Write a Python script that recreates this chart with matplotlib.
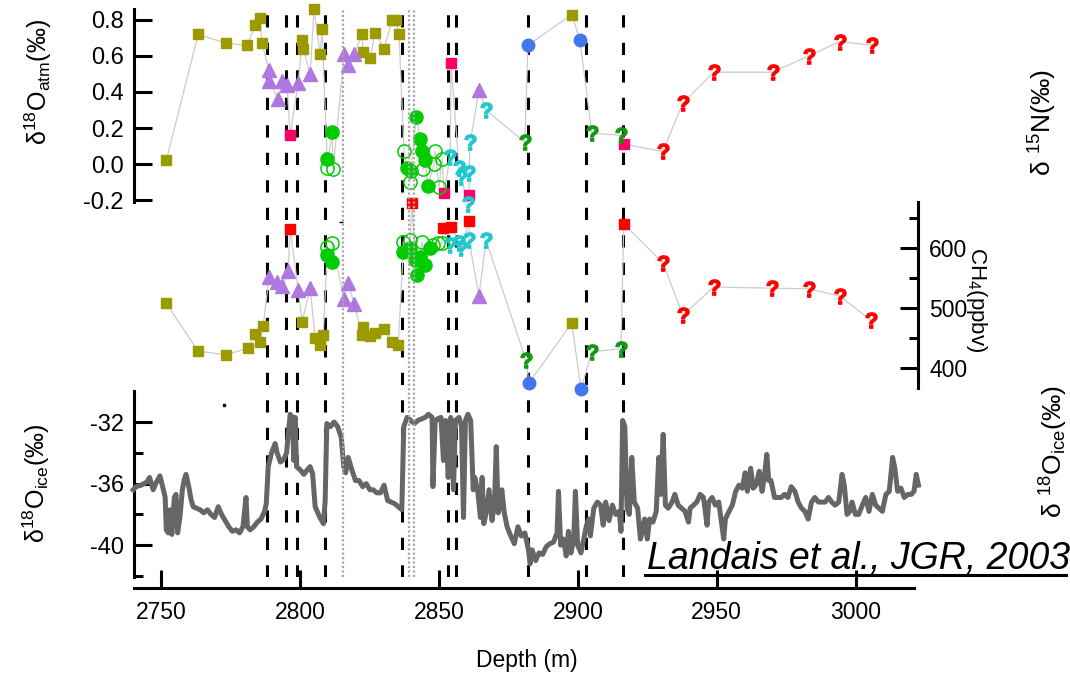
import numpy as np
import matplotlib
matplotlib.use("Agg")
import matplotlib.pyplot as plt
from matplotlib.lines import Line2D
from matplotlib.ticker import FixedLocator, FormatStrFormatter

plt.rcParams['font.family'] = ['Liberation Sans', 'DejaVu Sans']
plt.rcParams['mathtext.fontset'] = 'custom'
plt.rcParams['mathtext.rm'] = 'Liberation Sans'
plt.rcParams['mathtext.it'] = 'Liberation Sans:italic'
plt.rcParams['mathtext.bf'] = 'Liberation Sans:bold'
plt.rcParams['axes.unicode_minus'] = False

#d18O atm (panel superior)
olive_d = [2751.8, 2763.3, 2773.4, 2780.9, 2783.8, 2785.6, 2786.3, 2800.7, 2801.1, 2805.0, 2807.2,
           2807.9, 2822.3, 2822.7, 2825.2, 2827.0, 2830.2, 2833.1, 2834.5, 2835.6, 2897.8]
olive_o = [0.02, 0.72, 0.67, 0.66, 0.77, 0.81, 0.67, 0.69, 0.64, 0.86, 0.61,
           0.75, 0.72, 0.62, 0.59, 0.73, 0.64, 0.80, 0.80, 0.72, 0.83]
purple_d = [2788.8, 2788.9, 2792.1, 2793.5, 2795.3, 2799.3, 2803.6, 2815.8, 2817.3, 2819.4, 2864.4]
purple_o = [0.52, 0.46, 0.36, 0.46, 0.44, 0.45, 0.50, 0.61, 0.55, 0.61, 0.41]
pink_d = [2796.4, 2851.8, 2854.3, 2860.8, 2916.5]
pink_o = [0.16, -0.16, 0.56, -0.17, 0.11]
gfill_d = [2809.7, 2811.5, 2838.5, 2839.9, 2841.7, 2843.2, 2843.9, 2845.0, 2846.0]
gfill_o = [0.03, 0.18, -0.02, -0.04, 0.26, 0.14, 0.07, 0.02, -0.12]
gopen_d = [2809.7, 2811.9, 2837.4, 2839.6, 2844.2, 2848.2, 2848.6, 2850.0, 2851.1]
gopen_o = [-0.02, -0.03, 0.07, -0.10, -0.03, 0.0, 0.07, -0.13, 0.03]
cyan_d = [2854.0, 2857.2, 2857.9, 2860.4, 2860.8, 2861.2, 2866.9]
cyan_o = [0.04, -0.02, -0.07, -0.22, -0.05, 0.12, 0.30]
gq_d = [2880.9, 2905.0, 2915.5]
gq_o = [0.12, 0.17, 0.16]
blue_d = [2882.0, 2900.7]
blue_o = [0.66, 0.69]
redq_d = [2930.6, 2937.8, 2948.9, 2970.1, 2983.1, 2994.2, 3005.8]
redq_o = [0.07, 0.34, 0.51, 0.51, 0.60, 0.68, 0.66]

#CH4 (panel medio)
olive_cd = [2751.8, 2763.3, 2773.4, 2781.3, 2783.8, 2785.6, 2786.7, 2800.7, 2805.4, 2807.2,
            2808.3, 2822.3, 2822.7, 2825.2, 2827.0, 2830.2, 2833.1, 2835.3, 2897.8]
olive_c = [508, 428, 422, 433, 457, 443, 470, 477, 450, 438,
           455, 455, 468, 453, 458, 465, 443, 438, 475]
purple_cd = [2788.8, 2791.7, 2793.5, 2795.7, 2799.3, 2803.6, 2815.8, 2817.3, 2819.4, 2864.4]
purple_c = [552, 543, 537, 562, 530, 533, 515, 542, 507, 520]
red_cd = [2796.4, 2840.3, 2851.4, 2854.3, 2860.8, 2916.5]
red_c = [632, 675, 633, 635, 645, 640]
gfill_cd = [2809.7, 2811.5, 2837.1, 2839.6, 2841.4, 2842.1, 2843.2, 2845.0, 2846.8]
gfill_c = [588, 577, 593, 600, 580, 555, 585, 572, 600]
gopen_cd = [2809.7, 2811.5, 2837.1, 2839.6, 2843.9, 2847.8, 2849.6, 2851.1]
gopen_c = [602, 608, 610, 613, 610, 605, 608, 608]
cyan_cd = [2854.0, 2857.2, 2857.9, 2860.8, 2866.9]
cyan_c = [605, 608, 600, 613, 613]
gq_cd = [2881.3, 2905.0, 2915.5]
gq_c = [413, 427, 432]
blue_cd = [2882.4, 2901.1]
blue_c = [375, 365]
redq_cd = [2930.6, 2937.8, 2948.9, 2969.8, 2983.1, 2994.2, 3005.4]
redq_c = [575, 488, 535, 533, 532, 520, 480]

#d18O ice (panel inferior)
ice_depth = [
    2739.9, 2740.9, 2742.8, 2744.8, 2745.8, 2747.1, 2748.0, 2749.5, 2750.5, 2751.4,
    2751.8, 2752.5, 2753.1, 2753.8, 2754.7, 2755.3, 2755.9, 2756.7, 2757.6, 2758.2,
    2758.9, 2759.9, 2760.8, 2761.5, 2762.7, 2764.0, 2765.3, 2766.6, 2767.9, 2769.2,
    2770.5, 2771.7, 2773.0, 2774.3, 2775.6, 2776.9, 2778.2, 2779.4, 2780.5, 2781.0,
    2782.0, 2783.3, 2784.6, 2785.9, 2787.2, 2787.8, 2788.5, 2789.7, 2791.0, 2791.7,
    2792.9, 2794.2, 2795.1, 2795.9, 2796.4, 2797.2, 2797.7, 2798.2, 2798.7, 2800.0,
    2801.3, 2802.6, 2803.6, 2804.5, 2805.4, 2807.1, 2808.4, 2809.0, 2809.6, 2810.9,
    2812.2, 2813.5, 2814.8, 2815.7, 2816.4, 2817.3, 2818.6, 2819.9, 2821.2, 2822.5,
    2823.8, 2825.1, 2826.3, 2827.6, 2828.9, 2830.2, 2831.5, 2832.8, 2834.0, 2835.3,
    2836.6, 2837.3, 2838.5, 2839.8, 2841.1, 2842.4, 2843.7, 2845.0, 2846.2, 2847.5,
    2847.8, 2848.6, 2849.4, 2850.7, 2851.6, 2852.4, 2853.3, 2854.2, 2855.2, 2855.9,
    2857.2, 2858.1, 2858.8, 2859.5, 2860.4, 2861.4, 2862.3, 2862.9, 2864.0, 2864.9,
    2865.5, 2866.1, 2867.0, 2868.0, 2869.1, 2870.0, 2870.6, 2871.3, 2871.9, 2872.6,
    2873.5, 2874.5, 2875.8, 2877.1, 2878.4, 2879.6, 2880.9, 2882.2, 2882.8, 2883.5,
    2884.8, 2886.0, 2887.3, 2888.6, 2889.9, 2891.2, 2892.5, 2893.0, 2893.8, 2894.8,
    2895.8, 2896.6, 2897.5, 2898.5, 2899.1, 2899.9, 2901.1, 2902.1, 2903.1, 2903.9,
    2904.5, 2905.7, 2907.0, 2908.2, 2909.1, 2910.0, 2911.2, 2912.4, 2913.6, 2914.9,
    2915.5, 2916.1, 2916.9, 2917.7, 2918.5, 2919.4, 2920.3, 2921.5, 2922.5, 2923.4,
    2924.0, 2925.0, 2925.8, 2927.0, 2928.2, 2929.1, 2929.8, 2930.7, 2931.5, 2932.5,
    2933.9, 2934.9, 2936.1, 2937.3, 2938.6, 2939.8, 2940.4, 2941.6, 2942.8, 2944.0,
    2945.2, 2946.5, 2947.1, 2948.3, 2949.5, 2950.7, 2952.5, 2953.1, 2954.4, 2955.6,
    2956.8, 2958.0, 2959.2, 2960.2, 2961.0, 2962.2, 2963.1, 2964.1, 2965.3, 2966.3,
    2967.1, 2968.0, 2968.7, 2969.5, 2970.8, 2972.0, 2973.2, 2974.4, 2975.6, 2976.8,
    2978.1, 2979.3, 2980.5, 2981.7, 2982.9, 2984.1, 2985.3, 2986.6, 2987.8, 2989.0,
    2990.2, 2991.4, 2992.6, 2993.9, 2995.1, 2995.9, 2996.9, 2997.9, 2998.7, 2999.9,
    3001.1, 3002.4, 3003.6, 3004.8, 3006.0, 3007.2, 3008.4, 3009.6, 3010.9, 3012.1,
    3013.3, 3014.1, 3015.1, 3016.3, 3017.5, 3018.8, 3020.0, 3021.0, 3021.8, 3022.6]
ice_d18o = [
    -36.4, -36.2, -36.1, -35.9, -35.6, -36.4, -36.0, -35.5, -36.2, -36.9,
    -39.0, -39.2, -37.7, -39.3, -36.9, -36.7, -39.2, -38.2, -36.4, -35.8,
    -35.4, -36.2, -37.1, -37.5, -37.6, -37.7, -37.9, -37.7, -38.0, -38.2,
    -37.5, -38.0, -38.4, -38.8, -39.1, -39.0, -39.2, -38.8, -36.9, -38.8,
    -39.0, -38.8, -38.5, -38.3, -37.8, -37.3, -34.9, -34.0, -33.4, -34.0,
    -34.6, -34.4, -34.0, -32.5, -31.5, -31.7, -34.5, -31.7, -34.9, -35.1,
    -35.4, -35.1, -34.9, -35.4, -37.5, -38.2, -38.6, -37.1, -32.1, -32.3,
    -32.0, -32.3, -33.0, -34.9, -35.3, -34.3, -35.1, -35.8, -35.8, -36.2,
    -36.0, -36.4, -36.4, -36.6, -36.6, -36.1, -37.1, -37.2, -37.3, -37.5,
    -37.7, -32.3, -31.7, -31.9, -32.1, -31.9, -31.8, -31.7, -31.5, -31.7,
    -36.2, -32.0, -31.8, -31.7, -34.5, -31.9, -35.6, -31.7, -36.4, -31.9,
    -31.7, -32.3, -38.2, -31.9, -31.5, -31.9, -36.4, -35.6, -36.6, -38.2,
    -35.6, -38.6, -37.9, -36.4, -38.4, -37.1, -33.6, -37.9, -37.5, -36.4,
    -37.9, -38.8, -39.4, -39.9, -38.8, -39.4, -39.2, -40.3, -41.2, -40.3,
    -41.0, -40.5, -40.6, -40.1, -39.9, -39.8, -39.2, -36.5, -40.0, -39.6,
    -40.7, -39.1, -40.5, -39.6, -36.5, -40.0, -40.5, -39.6, -38.7, -38.3,
    -39.4, -37.6, -37.2, -37.4, -38.7, -37.2, -38.4, -37.4, -38.0, -37.8,
    -39.1, -31.9, -32.3, -37.6, -38.0, -34.3, -37.2, -37.6, -39.6, -38.9,
    -38.3, -39.6, -38.3, -38.5, -37.8, -34.3, -36.7, -32.8, -37.4, -37.6,
    -37.2, -36.7, -37.4, -37.6, -37.8, -38.5, -37.6, -37.4, -37.2, -36.7,
    -36.9, -38.7, -37.2, -36.9, -37.4, -37.2, -39.6, -38.3, -37.8, -37.4,
    -36.5, -36.1, -36.3, -35.3, -36.5, -35.0, -36.3, -36.1, -35.2, -36.5,
    -35.6, -34.1, -35.8, -35.8, -36.9, -36.9, -36.9, -36.7, -36.9, -36.2,
    -36.5, -37.2, -37.6, -37.8, -38.3, -37.2, -36.9, -37.2, -37.2, -37.2,
    -36.9, -37.2, -37.4, -37.2, -35.4, -36.1, -38.0, -37.8, -37.2, -38.0,
    -38.0, -37.4, -36.9, -37.8, -36.7, -37.4, -37.6, -37.8, -36.7, -36.5,
    -34.3, -35.0, -36.5, -36.3, -36.9, -36.7, -36.7, -36.5, -35.4, -36.1]

dashed_depths = [2788.1, 2795.0, 2798.9, 2809.0, 2836.7, 2853.2, 2856.1, 2882.0, 2902.9, 2916.2]
dotted_depths = [2815.5, 2839.3, 2841.0]

qmark = r'$\mathbf{?}$'

fig = plt.figure(figsize=(10.7, 6.77), dpi=100)
ax = fig.add_axes([133.5/1070, 1 - 577/677, 780.5/1070, 577/677])
ax.set_xlim(2740, 3021)
ax.set_ylim(-42.065, -4.597)

ax_top = ax.twinx()
ax_top.set_ylim(-2.294, 0.911)
ax_ch4 = ax.twinx()
ax_ch4.set_ylim(51.67, 1013.3)

#lineas verticales
for d in dashed_depths:
    ax.axvline(d, ymin=0, ymax=1 - 9/577, color="black", lw=2.2, dashes=(4, 5), zorder=1)
for d in dotted_depths:
    ax_ch4.axvline(d, ymin=0, ymax=1 - 9/577, color="#a8a8a8", lw=1.6, linestyle=(0, (1, 1)), zorder=10)

#panel inferior
ax.plot(ice_depth, ice_d18o, color="#666666", lw=3.6, clip_on=False, zorder=3)
ax.plot([2772.7], [-30.9], marker="s", ms=1.5, color="black", lw=0)

#panel superior
all_d = np.concatenate([olive_d, purple_d, pink_d, gfill_d, gopen_d, cyan_d, gq_d, blue_d, redq_d])
all_o = np.concatenate([olive_o, purple_o, pink_o, gfill_o, gopen_o, cyan_o, gq_o, blue_o, redq_o])
idx = np.argsort(all_d, kind="stable")
ax_top.plot(all_d[idx], all_o[idx], color="#cccccc", lw=0.9, zorder=2)
ax_top.plot(olive_d, olive_o, "s", color="#9c9a00", ms=7.2, lw=0, zorder=3)
ax_top.plot(purple_d, purple_o, "^", color="#ae78e0", ms=10, lw=0, zorder=3)
ax_top.plot(pink_d, pink_o, "s", color="#ff0066", ms=7.2, lw=0, zorder=3)
ax_top.plot(gopen_d, gopen_o, "o", mfc="none", mec="#00cc00", mew=1.1, ms=9.5, lw=0, zorder=3)
ax_top.plot(gfill_d, gfill_o, "o", color="#00cc00", ms=9.5, lw=0, zorder=3)
ax_top.plot(cyan_d, cyan_o, marker=qmark, color="#1ec8d0", ms=11, lw=0, zorder=3)
ax_top.plot(gq_d, gq_o, marker=qmark, color="#119911", ms=11, lw=0, zorder=3)
ax_top.plot(blue_d, blue_o, "o", color="#4477ee", ms=9, lw=0, zorder=3)
ax_top.plot(redq_d, redq_o, marker=qmark, color="#ff0000", ms=11, lw=0, zorder=3)

#panel medio
all_cd = np.concatenate([olive_cd, purple_cd, red_cd, gfill_cd, gopen_cd, cyan_cd, gq_cd, blue_cd, redq_cd])
all_c = np.concatenate([olive_c, purple_c, red_c, gfill_c, gopen_c, cyan_c, gq_c, blue_c, redq_c])
idx = np.argsort(all_cd, kind="stable")
ax_ch4.plot(all_cd[idx], all_c[idx], color="#cccccc", lw=0.9, zorder=2)
ax_ch4.plot(olive_cd, olive_c, "s", color="#9c9a00", ms=7.2, lw=0, zorder=3)
ax_ch4.plot(purple_cd, purple_c, "^", color="#ae78e0", ms=10, lw=0, zorder=3)
ax_ch4.plot(red_cd, red_c, "s", color="#ff0000", ms=7.2, lw=0, zorder=3)
ax_ch4.plot(gopen_cd, gopen_c, "o", mfc="none", mec="#00cc00", mew=1.1, ms=9.5, lw=0, zorder=3)
ax_ch4.plot(gfill_cd, gfill_c, "o", color="#00cc00", ms=9.5, lw=0, zorder=3)
ax_ch4.plot(cyan_cd, cyan_c, marker=qmark, color="#1ec8d0", ms=11, lw=0, zorder=3)
ax_ch4.plot(gq_cd, gq_c, marker=qmark, color="#119911", ms=11, lw=0, zorder=3)
ax_ch4.plot(blue_cd, blue_c, "o", color="#4477ee", ms=9, lw=0, zorder=3)
ax_ch4.plot(redq_cd, redq_c, marker=qmark, color="#ff0000", ms=11, lw=0, zorder=3)
ax_ch4.plot([2814.7], [643], marker="_", ms=3, color="black", lw=0)

#ejes
for a in [ax, ax_top, ax_ch4]:
    for s in a.spines.values():
        s.set_visible(False)
        s.set_linewidth(2.2)

ax.spines['bottom'].set_visible(True)
ax.spines['bottom'].set_position(('outward', 8))
ax.set_xticks([2750, 2800, 2850, 2900, 2950, 3000])
ax.tick_params(axis="x", direction="in", length=13, width=2.2, labelsize=16.5, pad=9)

ax.spines['left'].set_visible(True)
ax.spines['left'].set_bounds(-42.065, -30.0)
ax.yaxis.set_major_locator(FixedLocator([-40, -36, -32]))
ax.yaxis.set_minor_locator(FixedLocator([-42, -38, -34]))
ax.yaxis.set_major_formatter(FormatStrFormatter("%d"))
ax.tick_params(axis="y", which="major", direction="in", length=13, width=2.2, labelsize=17, pad=7)
ax.tick_params(axis="y", which="minor", direction="in", length=6.5, width=2.2)

ax_top.yaxis.tick_left()
ax_top.spines['left'].set_visible(True)
ax_top.spines['left'].set_bounds(-0.21, 0.86)
ax_top.yaxis.set_major_locator(FixedLocator([-0.2, 0.0, 0.2, 0.4, 0.6, 0.8]))
ax_top.yaxis.set_major_formatter(FormatStrFormatter("%.1f"))
ax_top.tick_params(axis="y", direction="in", length=13, width=2.2, labelsize=17, pad=7)

ax_ch4.spines['right'].set_visible(True)
ax_ch4.spines['right'].set_position(('outward', 3))
ax_ch4.spines['right'].set_bounds(366.7, 676.7)
ax_ch4.yaxis.set_major_locator(FixedLocator([400, 500, 600]))
ax_ch4.yaxis.set_minor_locator(FixedLocator([450, 550, 650]))
ax_ch4.yaxis.set_major_formatter(FormatStrFormatter("%d"))
ax_ch4.tick_params(axis="y", which="major", direction="in", length=13, width=2.2, labelsize=16.5, pad=8)
ax_ch4.tick_params(axis="y", which="minor", direction="in", length=6.5, width=2.2)

#textos
fig.text(527/1070, 1 - 660/677, "Depth (m)", ha="center", va="center", fontsize=16.5)
fig.text(38/1070, 1 - 82/677, r"$\mathregular{δ^{18}O_{atm}(‰)}$", rotation=90,
         ha="center", va="center", fontsize=18)
fig.text(36/1070, 1 - 483/677, r"$\mathregular{δ^{18}O_{ice}(‰)}$", rotation=90,
         ha="center", va="center", fontsize=18)
fig.text(1043/1070, 1 - 123/677, r"δ $\mathregular{^{15}}$N(‰)", rotation=90,
         ha="center", va="center", fontsize=19)
fig.text(1054/1070, 1 - 452/677, r"δ $\mathregular{^{18}O_{ice}}$(‰)", rotation=90,
         ha="center", va="center", fontsize=19)
fig.text(977/1070, 1 - 300/677, r"$\mathregular{CH_4(ppbv)}$", rotation=270,
         ha="center", va="center", fontsize=16)
fig.text(647/1070, 1 - 569/677, "Landais et al., JGR, 2003", style="italic",
         ha="left", va="baseline", fontsize=27)
fig.add_artist(Line2D([645/1070, 1066/1070], [1 - 575/677, 1 - 575/677],
                      transform=fig.transFigure, color="black", lw=2.2))

fig.savefig("out.png", dpi=100)
